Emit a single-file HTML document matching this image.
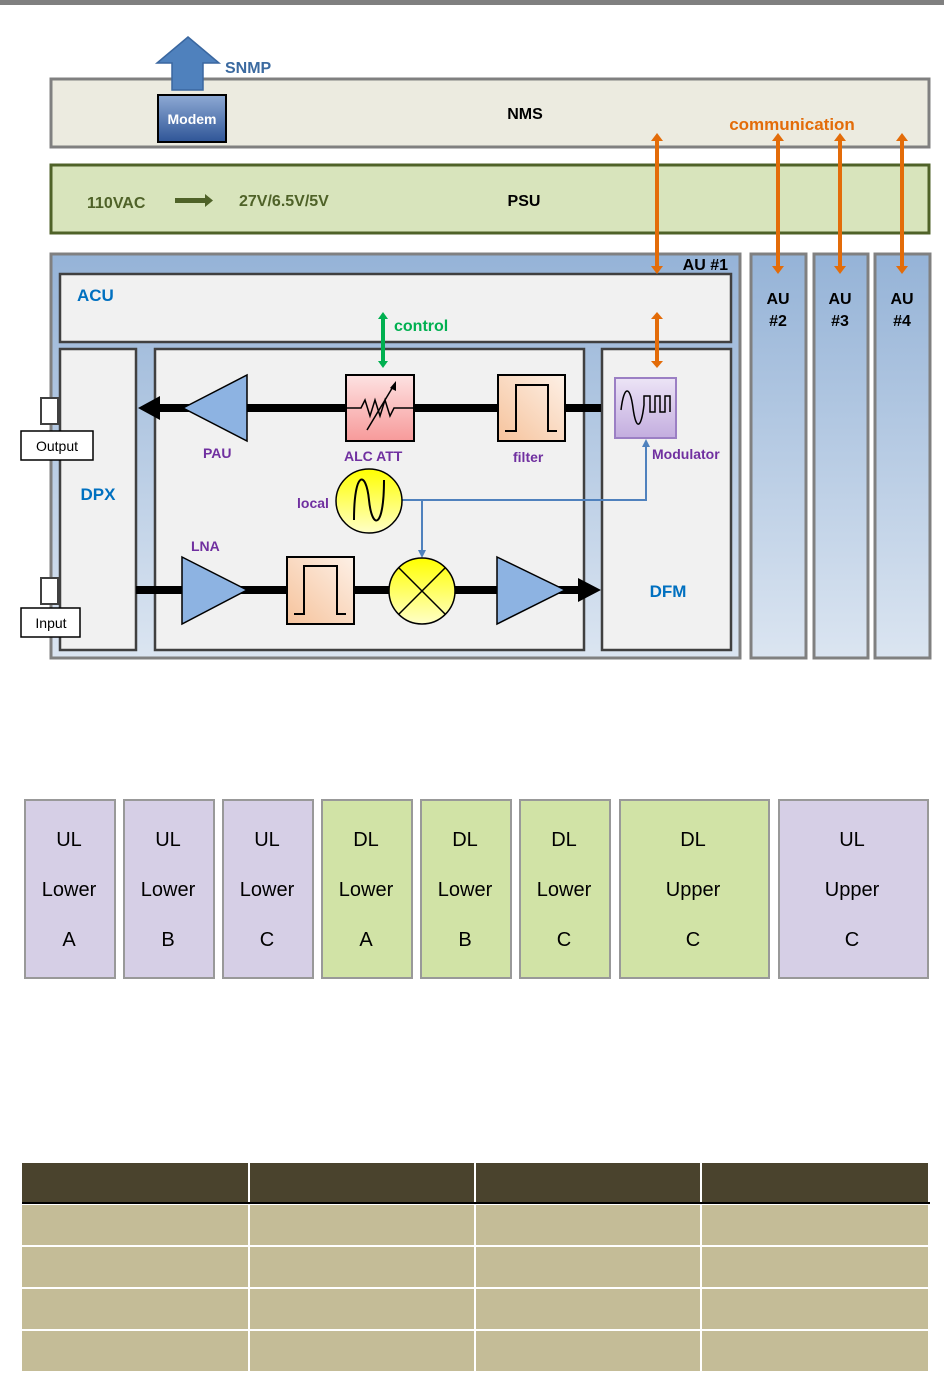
<!DOCTYPE html>
<html><head><meta charset="utf-8"><style>
html,body{margin:0;padding:0;background:#fff;}
svg{display:block;font-family:"Liberation Sans",Arial,sans-serif;}
</style></head><body>
<svg width="944" height="1373" viewBox="0 0 944 1373" xmlns="http://www.w3.org/2000/svg">
<defs>
<linearGradient id="au" x1="0" y1="0" x2="0" y2="1"><stop offset="0" stop-color="#95b3d7"/><stop offset="1" stop-color="#dbe5f1"/></linearGradient>
<linearGradient id="modem" x1="0" y1="0" x2="0" y2="1"><stop offset="0" stop-color="#8eaad4"/><stop offset="1" stop-color="#2f5597"/></linearGradient>
<linearGradient id="pink" x1="0" y1="0" x2="0" y2="1"><stop offset="0" stop-color="#fde2e2"/><stop offset="1" stop-color="#f79a9a"/></linearGradient>
<linearGradient id="peach" x1="1" y1="0" x2="0" y2="1"><stop offset="0" stop-color="#fdf0e6"/><stop offset="1" stop-color="#f6c39c"/></linearGradient>
<linearGradient id="purp" x1="0" y1="0" x2="0" y2="1"><stop offset="0" stop-color="#ece4f6"/><stop offset="1" stop-color="#c3addf"/></linearGradient>
<linearGradient id="yel" x1="0" y1="0" x2="0" y2="1"><stop offset="0" stop-color="#ffff00"/><stop offset="1" stop-color="#ffffc8"/></linearGradient>
</defs>
<rect x="0" y="0" width="944" height="5" fill="#808080"/>
<rect x="51" y="79" width="878" height="68" fill="#ecebe0" stroke="#808080" stroke-width="3"/>
<polygon points="188,37 219,63 203,63 203,90 172,90 172,63 157,63" fill="#4f81bd" stroke="#3a67a0" stroke-width="1.5"/>
<text x="225" y="73" font-size="16" font-weight="bold" fill="#3b6aa0">SNMP</text>
<rect x="158" y="95" width="68" height="47" fill="url(#modem)" stroke="#000" stroke-width="2"/>
<text x="192" y="124" font-size="14" font-weight="bold" fill="#fff" text-anchor="middle">Modem</text>
<text x="525" y="119" font-size="16" font-weight="bold" text-anchor="middle">NMS</text>
<text x="792" y="130" font-size="17" font-weight="bold" fill="#e36c09" text-anchor="middle">communication</text>
<rect x="51" y="165" width="878" height="68" fill="#d8e4bc" stroke="#4f6228" stroke-width="3"/>
<text x="87" y="208" font-size="16" font-weight="bold" fill="#4f6228">110VAC</text>
<rect x="175" y="198" width="31" height="5" fill="#4f6228"/><polygon points="205,194 213,200.5 205,207" fill="#4f6228"/>
<text x="239" y="206" font-size="16" font-weight="bold" fill="#4f6228">27V/6.5V/5V</text>
<text x="524" y="206" font-size="16" font-weight="bold" text-anchor="middle">PSU</text>
<rect x="51" y="254" width="689" height="404" fill="url(#au)" stroke="#808080" stroke-width="3"/>
<rect x="751" y="254" width="55" height="404" fill="url(#au)" stroke="#808080" stroke-width="3"/>
<rect x="814" y="254" width="54" height="404" fill="url(#au)" stroke="#808080" stroke-width="3"/>
<rect x="875" y="254" width="55" height="404" fill="url(#au)" stroke="#808080" stroke-width="3"/>
<text x="728" y="270" font-size="16" font-weight="bold" text-anchor="end">AU #1</text>
<g font-size="16" font-weight="bold" text-anchor="middle">
<text x="778" y="304">AU</text><text x="778" y="326">#2</text>
<text x="840" y="304">AU</text><text x="840" y="326">#3</text>
<text x="902" y="304">AU</text><text x="902" y="326">#4</text>
</g>
<rect x="60" y="274" width="671" height="68" fill="#f1f1f1" stroke="#404040" stroke-width="2.5"/>
<text x="77" y="301" font-size="17" font-weight="bold" fill="#0070c0">ACU</text>
<rect x="60" y="349" width="76" height="301" fill="#f1f1f1" stroke="#404040" stroke-width="2.5"/>
<rect x="155" y="349" width="429" height="301" fill="#f1f1f1" stroke="#404040" stroke-width="2.5"/>
<rect x="602" y="349" width="129" height="301" fill="#f1f1f1" stroke="#404040" stroke-width="2.5"/>
<text x="98" y="500" font-size="17" font-weight="bold" fill="#0070c0" text-anchor="middle">DPX</text>
<text x="668" y="597" font-size="17" font-weight="bold" fill="#0070c0" text-anchor="middle">DFM</text>
<g stroke="#e36c09" stroke-width="4" fill="#e36c09">
<line x1="657" y1="140" x2="657" y2="267"/><line x1="778" y1="140" x2="778" y2="267"/><line x1="840" y1="140" x2="840" y2="267"/><line x1="902" y1="140" x2="902" y2="267"/>
<line x1="657" y1="318" x2="657" y2="362"/>
</g>
<g fill="#e36c09">
<polygon points="651,141 657,133 663,141"/><polygon points="651,266 657,274 663,266"/>
<polygon points="772,141 778,133 784,141"/><polygon points="772,266 778,274 784,266"/>
<polygon points="834,141 840,133 846,141"/><polygon points="834,266 840,274 846,266"/>
<polygon points="896,141 902,133 908,141"/><polygon points="896,266 902,274 908,266"/>
<polygon points="651,319 657,312 663,319"/><polygon points="651,361 657,368 663,361"/>
</g>
<line x1="383" y1="318" x2="383" y2="362" stroke="#00b050" stroke-width="4"/>
<polygon points="378,319 383,312 388,319" fill="#00b050"/><polygon points="378,361 383,368 388,361" fill="#00b050"/>
<text x="394" y="331" font-size="16" font-weight="bold" fill="#00b050">control</text>
<rect x="41" y="398" width="17" height="26" fill="#fff" stroke="#404040" stroke-width="2"/>
<rect x="41" y="578" width="17" height="26" fill="#fff" stroke="#404040" stroke-width="2"/>
<rect x="21" y="431" width="72" height="29" fill="#fff" stroke="#000" stroke-width="1.5"/>
<text x="57" y="451" font-size="14" text-anchor="middle">Output</text>
<rect x="21" y="608" width="59" height="29" fill="#fff" stroke="#000" stroke-width="1.5"/>
<text x="51" y="628" font-size="14" text-anchor="middle">Input</text>
<line x1="155" y1="408" x2="601" y2="408" stroke="#000" stroke-width="8"/>
<polygon points="138,408 160,396 160,420" fill="#000"/>
<polygon points="183,408 247,375 247,441" fill="#8db3e2" stroke="#000" stroke-width="1.5"/>
<rect x="346" y="375" width="68" height="66" fill="url(#pink)" stroke="#000" stroke-width="2"/>
<path d="M346,408 H361 l4,-8 l5,16 l5,-16 l5,16 l5,-16 l5,16 l4,-8 H414" fill="none" stroke="#000" stroke-width="1.5"/>
<line x1="367" y1="430" x2="394" y2="385" stroke="#000" stroke-width="1.5"/><polygon points="396,381 396,391 390,388" fill="#000"/>
<rect x="498" y="375" width="67" height="66" fill="url(#peach)" stroke="#000" stroke-width="2"/>
<path d="M505,431 H516 V385 H548 V431 H557" fill="none" stroke="#000" stroke-width="2"/>
<rect x="615" y="378" width="61" height="60" fill="url(#purp)" stroke="#9b7fc4" stroke-width="2"/>
<path d="M621,410 C624,385 630,385 633,408 C636,430 641,430 644,405 V396 H650 V412 H655 V396 H660 V412 H665 V396 H670 V412" fill="none" stroke="#000" stroke-width="1.5"/>
<g font-size="14" font-weight="bold" fill="#7030a0">
<text x="203" y="458">PAU</text><text x="344" y="461">ALC ATT</text><text x="513" y="462">filter</text><text x="652" y="459">Modulator</text>
<text x="297" y="508">local</text><text x="191" y="551">LNA</text>
</g>
<path d="M402,500 H646 V446" fill="none" stroke="#4f81bd" stroke-width="2"/>
<polygon points="642,447 646,439 650,447" fill="#4f81bd"/>
<line x1="422" y1="500" x2="422" y2="551" stroke="#4f81bd" stroke-width="2"/>
<polygon points="418,550 422,558 426,550" fill="#4f81bd"/>
<ellipse cx="369" cy="501" rx="33" ry="32" fill="url(#yel)" stroke="#000" stroke-width="1.5"/>
<path d="M354,520 C354,470 366,470 369,500 C372,530 384,530 384,480" fill="none" stroke="#000" stroke-width="2"/>
<line x1="136" y1="590" x2="585" y2="590" stroke="#000" stroke-width="8"/>
<polygon points="601,590 578,578 578,602" fill="#000"/>
<polygon points="182,557 247,590 182,624" fill="#8db3e2" stroke="#000" stroke-width="1.5"/>
<rect x="287" y="557" width="67" height="67" fill="url(#peach)" stroke="#000" stroke-width="2"/>
<path d="M294,614 H304 V566 H337 V614 H346" fill="none" stroke="#000" stroke-width="2"/>
<ellipse cx="422" cy="591" rx="33" ry="33" fill="url(#yel)" stroke="#000" stroke-width="1.5"/>
<line x1="399" y1="568" x2="445" y2="614" stroke="#000" stroke-width="1.5"/><line x1="445" y1="568" x2="399" y2="614" stroke="#000" stroke-width="1.5"/>
<polygon points="497,557 565,590 497,624" fill="#8db3e2" stroke="#000" stroke-width="1.5"/>
<g stroke="#999" stroke-width="2">
<rect x="25" y="800" width="90" height="178" fill="#d6cfe6"/>
<rect x="124" y="800" width="90" height="178" fill="#d6cfe6"/>
<rect x="223" y="800" width="90" height="178" fill="#d6cfe6"/>
<rect x="322" y="800" width="90" height="178" fill="#d1e3a6"/>
<rect x="421" y="800" width="90" height="178" fill="#d1e3a6"/>
<rect x="520" y="800" width="90" height="178" fill="#d1e3a6"/>
<rect x="620" y="800" width="149" height="178" fill="#d1e3a6"/>
<rect x="779" y="800" width="149" height="178" fill="#d6cfe6"/>
</g>
<g font-size="20" text-anchor="middle" fill="#000">
<text x="69" y="846">UL</text><text x="69" y="896">Lower</text><text x="69" y="946">A</text>
<text x="168" y="846">UL</text><text x="168" y="896">Lower</text><text x="168" y="946">B</text>
<text x="267" y="846">UL</text><text x="267" y="896">Lower</text><text x="267" y="946">C</text>
<text x="366" y="846">DL</text><text x="366" y="896">Lower</text><text x="366" y="946">A</text>
<text x="465" y="846">DL</text><text x="465" y="896">Lower</text><text x="465" y="946">B</text>
<text x="564" y="846">DL</text><text x="564" y="896">Lower</text><text x="564" y="946">C</text>
<text x="693" y="846">DL</text><text x="693" y="896">Upper</text><text x="693" y="946">C</text>
<text x="852" y="846">UL</text><text x="852" y="896">Upper</text><text x="852" y="946">C</text>
</g>
<g fill="#4a432d">
<rect x="22" y="1163" width="226" height="40"/><rect x="250" y="1163" width="224" height="40"/><rect x="476" y="1163" width="224" height="40"/><rect x="702" y="1163" width="226" height="40"/>
</g>
<rect x="22" y="1202" width="908" height="2" fill="#000"/>
<g fill="#c4bc97">
<rect x="22" y="1205" width="226" height="40"/><rect x="250" y="1205" width="224" height="40"/><rect x="476" y="1205" width="224" height="40"/><rect x="702" y="1205" width="226" height="40"/>
<rect x="22" y="1247" width="226" height="40"/><rect x="250" y="1247" width="224" height="40"/><rect x="476" y="1247" width="224" height="40"/><rect x="702" y="1247" width="226" height="40"/>
<rect x="22" y="1289" width="226" height="40"/><rect x="250" y="1289" width="224" height="40"/><rect x="476" y="1289" width="224" height="40"/><rect x="702" y="1289" width="226" height="40"/>
<rect x="22" y="1331" width="226" height="40"/><rect x="250" y="1331" width="224" height="40"/><rect x="476" y="1331" width="224" height="40"/><rect x="702" y="1331" width="226" height="40"/>
</g>
</svg>
</body></html>
